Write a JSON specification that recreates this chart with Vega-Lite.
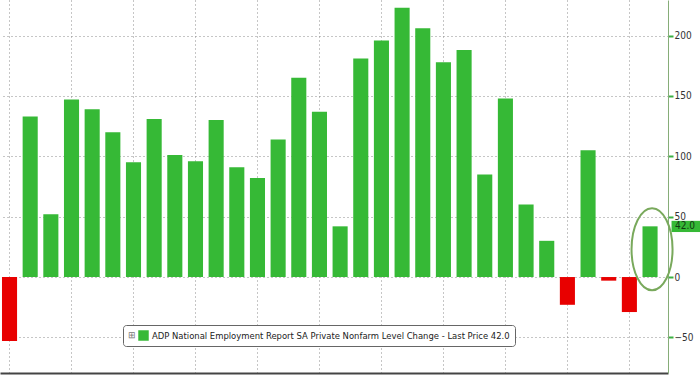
{
  "$schema": "https://vega.github.io/schema/vega-lite/v6.json",
  "width": 668,
  "height": 373,
  "autosize": {"type": "none"},
  "padding": {"left": 0, "top": 0, "right": 32, "bottom": 2},
  "background": "white",
  "config": {"view": {"stroke": null}},
  "data": {"values": [
    {"month": "2023-03", "value": -53},
    {"month": "2023-04", "value": 133},
    {"month": "2023-05", "value": 52},
    {"month": "2023-06", "value": 147},
    {"month": "2023-07", "value": 139},
    {"month": "2023-08", "value": 120},
    {"month": "2023-09", "value": 95},
    {"month": "2023-10", "value": 131},
    {"month": "2023-11", "value": 101},
    {"month": "2023-12", "value": 96},
    {"month": "2024-01", "value": 130},
    {"month": "2024-02", "value": 91},
    {"month": "2024-03", "value": 82},
    {"month": "2024-04", "value": 114},
    {"month": "2024-05", "value": 165},
    {"month": "2024-06", "value": 137},
    {"month": "2024-07", "value": 42},
    {"month": "2024-08", "value": 181},
    {"month": "2024-09", "value": 196},
    {"month": "2024-10", "value": 223},
    {"month": "2024-11", "value": 206},
    {"month": "2024-12", "value": 178},
    {"month": "2025-01", "value": 188},
    {"month": "2025-02", "value": 85},
    {"month": "2025-03", "value": 148},
    {"month": "2025-04", "value": 60},
    {"month": "2025-05", "value": 30},
    {"month": "2025-06", "value": -23},
    {"month": "2025-07", "value": 105},
    {"month": "2025-08", "value": -3},
    {"month": "2025-09", "value": -29},
    {"month": "2025-10", "value": 42}
  ]},
  "encoding": {
    "x": {
      "field": "month", "type": "ordinal", "sort": null,
      "scale": {"paddingInner": 0.27, "paddingOuter": 0.3, "align": 0.16},
      "axis": {
        "title": null, "labels": false, "ticks": false,
        "domain": true, "domainColor": "#444", "domainWidth": 2,
        "grid": true, "gridColor": "#8c8c8c", "gridDash": [1, 3], "gridWidth": 1,
        "values": ["2023-03", "2023-06", "2023-09", "2023-12", "2024-03", "2024-06", "2024-09", "2024-12", "2025-03", "2025-06", "2025-09"]
      }
    },
    "y": {
      "field": "value", "type": "quantitative",
      "scale": {"domain": [-79.5, 229.5], "nice": false, "zero": false},
      "axis": {
        "orient": "right", "title": null,
        "values": [-50, 0, 50, 100, 150, 200],
        "domainColor": "#86ad78", "domainWidth": 1,
        "tickColor": "#3cb043", "tickSize": 5, "tickWidth": 2,
        "labelColor": "#333", "labelFont": "DejaVu Sans Condensed", "labelFontSize": 10, "labelPadding": 1,
        "grid": true, "gridColor": "#8c8c8c", "gridDash": [1, 3], "gridWidth": 1
      }
    }
  },
  "layer": [
    {
      "mark": {"type": "bar"},
      "encoding": {
        "color": {
          "condition": {"test": "datum.value < 0", "value": "#e80000"},
          "datum": "ADP National Employment Report SA Private Nonfarm Level Change - Last Price 42.0",
          "type": "nominal",
          "scale": {"range": ["#36b936"]},
          "legend": {
            "orient": "none", "legendX": 123, "legendY": 325,
            "title": "⊞", "titleOrient": "left", "titleFontSize": 9, "titleColor": "#777", "titleFontWeight": "normal", "titlePadding": 2,
            "strokeColor": "#666", "cornerRadius": 3, "padding": 5, "fillColor": "white",
            "symbolType": "square", "symbolSize": 110, "symbolStrokeWidth": 0, "symbolOpacity": 1,
            "labelFont": "DejaVu Sans Condensed", "labelFontSize": 9.4, "labelColor": "#222", "labelLimit": 0, "labelOffset": 3
          }
        }
      }
    },
    {
      "transform": [{"filter": "datum.month == '2025-10'"}],
      "mark": {"type": "point", "shape": "M -1.85,0 A 2.05,4.1 0 1,0 2.25,0 A 2.05,4.1 0 1,0 -1.85,0", "size": 400, "filled": false, "stroke": "#79a95c", "strokeWidth": 2, "opacity": 1},
      "encoding": {"y": {"datum": 23}}
    },
    {
      "transform": [{"filter": "datum.month == '2025-10'"}],
      "mark": {"type": "point", "shape": "M 2.15,-0.55 H 5 V 0.57 H 2.15 Z", "size": 400, "filled": true, "color": "#36b936", "strokeWidth": 0, "opacity": 1},
      "encoding": {}
    },
    {
      "transform": [{"filter": "datum.month == '2025-10'"}],
      "mark": {"type": "text", "dx": 35, "align": "center", "baseline": "middle", "font": "DejaVu Sans Condensed", "fontSize": 10, "color": "#123812"},
      "encoding": {"text": {"field": "value", "type": "quantitative", "format": ".1f"}}
    }
  ]
}
